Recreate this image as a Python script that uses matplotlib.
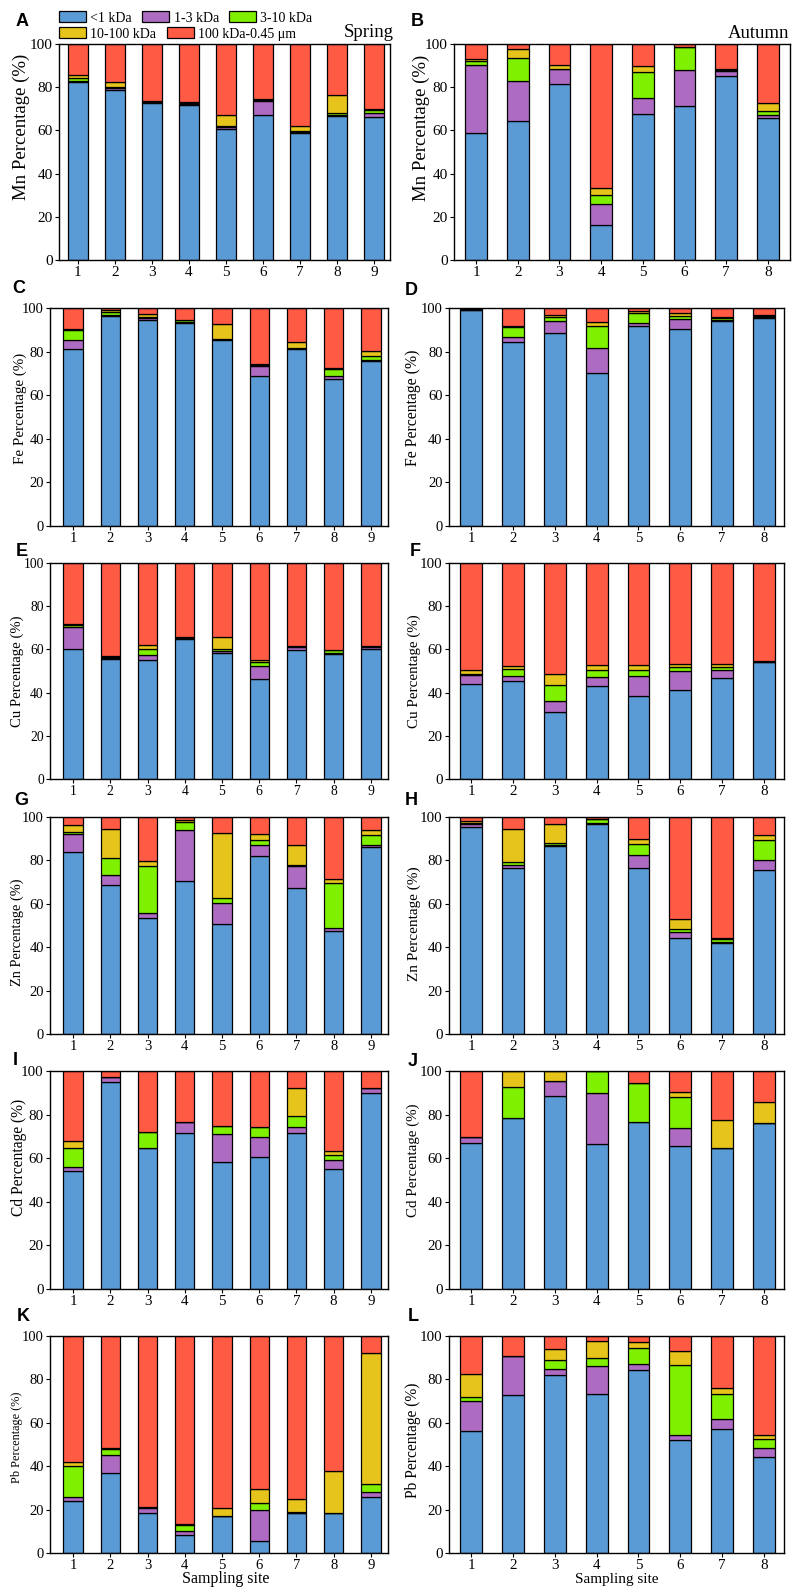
import numpy as np
import matplotlib.pyplot as plt
from matplotlib.patches import Patch

plt.rcParams['font.family'] = ['Liberation Serif', 'DejaVu Serif']

fractions = ["<1 kDa", "1-3 kDa", "3-10 kDa", "10-100 kDa", "100 kDa-0.45 μm"]
colors = ["#5B9BD5", "#AD6BC1", "#7FF000", "#E6C41C", "#FF5A44"]
spring_sites = [1, 2, 3, 4, 5, 6, 7, 8, 9]
autumn_sites = [1, 2, 3, 4, 5, 6, 7, 8]

# rows follow `fractions`: <1, 1-3, 3-10, 10-100 kDa, 100 kDa-0.45 um (%)
mn_spring = [
    [82.2, 78.8, 72.8, 71.8, 60.5, 66.9, 58.9, 66.6, 66.3],
    [0.5, 1.0, 0.3, 0.5, 1.0, 6.6, 0.3, 0.4, 1.8],
    [1.6, 0.5, 0.2, 0.5, 0.5, 0.6, 0.3, 1.0, 1.2],
    [1.5, 2.0, 0.2, 0.2, 5.0, 0.5, 2.5, 8.6, 0.7],
    [14.2, 17.7, 26.5, 27.0, 33.0, 25.4, 38.0, 23.4, 30.0],
]
mn_autumn = [
    [58.6, 64.3, 81.5, 16.3, 67.4, 71.2, 85.4, 65.8],
    [31.9, 18.8, 6.7, 9.7, 7.7, 16.6, 2.0, 1.1],
    [1.5, 10.4, 0.4, 4.0, 12.0, 10.7, 0.4, 2.1],
    [1.0, 4.2, 1.6, 3.5, 2.6, 0.3, 0.4, 3.5],
    [7.0, 2.3, 9.8, 66.5, 10.3, 1.2, 11.8, 27.5],
]
fe_spring = [
    [81.1, 96.5, 94.6, 93.1, 85.1, 69.0, 81.1, 67.5, 75.5],
    [4.3, 0.5, 0.6, 0.6, 0.5, 4.2, 0.4, 1.1, 0.5],
    [4.6, 1.0, 0.6, 0.6, 0.3, 0.6, 0.3, 3.6, 2.2],
    [0.3, 1.0, 1.4, 0.3, 6.9, 0.6, 2.4, 0.2, 2.2],
    [9.7, 1.0, 2.8, 5.4, 7.2, 25.6, 15.8, 27.6, 19.6],
]
fe_autumn = [
    [99.0, 84.4, 88.5, 70.1, 91.6, 90.5, 94.2, 95.4],
    [0.2, 2.3, 5.4, 11.5, 1.5, 4.6, 0.5, 0.5],
    [0.2, 4.4, 2.0, 10.0, 4.6, 1.4, 0.5, 0.5],
    [0.1, 0.5, 1.0, 1.8, 0.8, 1.2, 0.5, 0.5],
    [0.5, 8.4, 3.1, 6.6, 1.5, 2.3, 4.3, 3.1],
]
cu_spring = [
    [60.3, 55.6, 55.2, 64.8, 58.3, 46.3, 59.9, 58.0, 60.3],
    [9.9, 0.4, 2.4, 0.3, 1.0, 5.9, 1.2, 0.5, 1.0],
    [1.0, 0.4, 2.6, 0.3, 1.0, 1.8, 0.3, 1.0, 0.2],
    [0.7, 0.4, 1.7, 0.2, 5.4, 1.2, 0.3, 0.4, 0.2],
    [28.1, 43.2, 38.1, 34.4, 34.3, 44.8, 38.3, 40.1, 38.3],
]
cu_autumn = [
    [44.0, 45.5, 31.0, 42.9, 38.6, 41.4, 46.8, 54.0],
    [4.3, 2.0, 5.0, 4.2, 9.2, 8.4, 3.5, 0.2],
    [0.3, 3.4, 7.4, 3.2, 2.8, 1.9, 1.6, 0.2],
    [1.7, 1.3, 5.2, 2.6, 2.0, 1.7, 1.5, 0.1],
    [49.7, 47.8, 51.4, 47.1, 47.4, 46.6, 46.6, 45.5],
]
zn_spring = [
    [83.9, 68.6, 53.3, 70.4, 50.5, 81.9, 67.5, 47.6, 86.2],
    [8.4, 4.9, 2.3, 23.8, 9.9, 5.4, 10.0, 1.1, 1.1],
    [0.8, 7.8, 21.9, 3.5, 2.5, 2.3, 0.3, 21.0, 4.6],
    [3.1, 13.0, 2.3, 0.8, 29.7, 2.7, 9.2, 1.5, 2.3],
    [3.8, 5.7, 20.2, 1.5, 7.4, 7.7, 13.0, 28.8, 5.8],
]
zn_autumn = [
    [95.4, 76.3, 86.5, 96.9, 76.6, 44.4, 42.1, 75.8],
    [1.2, 1.8, 0.8, 0.3, 5.8, 2.8, 0.5, 4.3],
    [0.5, 1.2, 0.7, 1.8, 5.3, 1.0, 1.0, 9.5],
    [1.1, 15.3, 8.9, 0.3, 2.3, 4.8, 0.5, 2.3],
    [1.8, 5.4, 3.1, 0.7, 10.0, 47.0, 55.9, 8.1],
]
cd_spring = [
    [54.1, 95.1, 64.9, 71.4, 58.3, 60.6, 71.7, 55.0, 89.7],
    [2.0, 2.3, 0.0, 5.0, 12.6, 8.9, 2.7, 4.1, 2.5],
    [8.4, 0.0, 6.9, 0.0, 4.1, 4.6, 5.1, 2.3, 0.0],
    [3.5, 0.0, 0.0, 0.0, 0.0, 0.0, 12.5, 2.0, 0.0],
    [32.0, 2.6, 28.2, 23.6, 25.0, 25.9, 8.0, 36.6, 7.8],
]
cd_autumn = [
    [67.2, 78.6, 88.5, 66.5, 76.4, 65.7, 64.5, 76.0],
    [2.6, 0.0, 7.1, 23.6, 0.0, 8.3, 0.0, 0.0],
    [0.0, 14.2, 0.0, 9.9, 18.2, 14.0, 0.0, 0.0],
    [0.0, 7.2, 4.4, 0.0, 0.0, 2.2, 13.0, 9.6],
    [30.2, 0.0, 0.0, 0.0, 5.4, 9.8, 22.5, 14.4],
]
pb_spring = [
    [23.8, 36.9, 18.6, 8.4, 16.9, 5.4, 18.6, 18.6, 25.8],
    [2.0, 8.4, 2.3, 1.6, 0.0, 14.3, 0.0, 0.0, 2.3],
    [14.3, 2.8, 0.2, 3.1, 0.2, 3.3, 0.2, 0.0, 3.9],
    [1.9, 0.3, 0.2, 0.3, 3.6, 6.6, 6.1, 19.0, 60.3],
    [58.0, 51.6, 78.7, 86.6, 79.3, 70.4, 75.1, 62.4, 7.7],
]
pb_autumn = [
    [56.2, 72.6, 82.0, 73.1, 84.2, 52.3, 57.2, 44.3],
    [13.8, 18.2, 2.6, 13.1, 3.0, 2.3, 4.6, 4.2],
    [2.0, 0.0, 4.2, 3.8, 7.4, 31.9, 11.7, 4.1],
    [10.6, 0.0, 5.0, 7.7, 2.6, 6.6, 2.7, 1.6],
    [17.4, 9.2, 6.2, 2.3, 2.8, 6.9, 23.8, 45.8],
]

W, H = 792, 1589
fig = plt.figure(figsize=(W / 100, H / 100), dpi=100)

rows = [(44, 260), (308, 526), (563, 779), (817, 1034), (1071, 1289), (1336, 1553)]

# letter, data, sites, metal, row, (left, right px), xlim, tick size, ylabel size, ylabel center px, letter px
panels = [
    ("A", mn_spring, spring_sites, "Mn", 0, (59, 390), (0.49, 9.43), 11, 13.5, (21, 127), (16, 13)),
    ("B", mn_autumn, autumn_sites, "Mn", 0, (454, 790), (0.47, 8.53), 11, 13.5, (421, 128), (411, 13)),
    ("C", fe_spring, spring_sites, "Fe", 1, (50, 388), (0.38, 9.46), 10.5, 10.8, (20, 408), (12, 280)),
    ("D", fe_autumn, autumn_sites, "Fe", 1, (449, 784), (0.47, 8.48), 10.5, 11.3, (413, 408), (405, 282)),
    ("E", cu_spring, spring_sites, "Cu", 2, (50, 388), (0.38, 9.46), 9.8, 10.6, (17, 671), (16, 543)),
    ("F", cu_autumn, autumn_sites, "Cu", 2, (449, 784), (0.47, 8.48), 10.8, 10.8, (414, 671), (410, 543)),
    ("G", zn_spring, spring_sites, "Zn", 3, (50, 388), (0.38, 9.46), 10.5, 10.4, (17, 932), (14, 792)),
    ("H", zn_autumn, autumn_sites, "Zn", 3, (449, 784), (0.47, 8.48), 10.8, 11.0, (414, 924), (405, 792)),
    ("I", cd_spring, spring_sites, "Cd", 4, (50, 388), (0.38, 9.46), 10.8, 11.2, (19, 1157), (13, 1052)),
    ("J", cd_autumn, autumn_sites, "Cd", 4, (449, 784), (0.47, 8.48), 10.8, 10.8, (413, 1160), (408, 1053)),
    ("K", pb_spring, spring_sites, "Pb", 5, (50, 388), (0.38, 9.46), 10.5, 8.8, (17, 1437), (17, 1308)),
    ("L", pb_autumn, autumn_sites, "Pb", 5, (449, 784), (0.47, 8.48), 10.8, 11.2, (413, 1440), (408, 1308)),
]

for letter, data, sites, metal, r, (l, rt), xlim, tsize, lsize, (lx, ly), (px, py) in panels:
    top, bot = rows[r]
    ax = fig.add_axes([l / W, 1 - bot / H, (rt - l) / W, (bot - top) / H])
    vals = np.array(data)
    bottom = np.zeros(len(sites))
    for k in range(len(fractions)):
        ax.bar(sites, vals[k], 0.52, bottom=bottom, color=colors[k],
               edgecolor="black", linewidth=0.9, zorder=2)
        bottom += vals[k]
    ax.set_xlim(*xlim)
    ax.set_ylim(0, 100)
    ax.set_xticks(sites)
    ax.set_yticks(range(0, 101, 20))
    ax.tick_params(direction="out", length=3, width=0.8, labelsize=tsize, pad=1.5)
    for s in ax.spines.values():
        s.set_linewidth(1.0)
    fig.text(lx / W, 1 - ly / H, f"{metal} Percentage (%)", rotation=90,
             ha="center", va="center", fontsize=lsize)
    fig.text(px / W, 1 - py / H, letter, family="Liberation Sans",
             fontweight="bold", fontsize=13, va="top", ha="left")

fig.text(226 / W, 1 - 1579 / H, "Sampling site", ha="center", va="center", fontsize=11.5)
fig.text(617 / W, 1 - 1580 / H, "Sampling site", ha="center", va="center", fontsize=11)
fig.text(394 / W, 1 - 37 / H, "Spring", ha="right", va="baseline", fontsize=13.5)
fig.text(789 / W, 1 - 38 / H, "Autumn", ha="right", va="baseline", fontsize=13.5)

handles = [Patch(facecolor=c, edgecolor="black", linewidth=0.9) for c in colors]
leg_kw = dict(loc="center left", frameon=False, fontsize=10, handlelength=1.95,
              handleheight=0.85, handletextpad=0.3, columnspacing=0.75,
              borderpad=0, borderaxespad=0)
fig.legend(handles[:3], fractions[:3], ncol=3, bbox_to_anchor=(59 / W, 1 - 18 / H), **leg_kw)
fig.legend(handles[3:], fractions[3:], ncol=2, bbox_to_anchor=(59 / W, 1 - 34 / H), **leg_kw)

fig.savefig("out.png", dpi=100)
